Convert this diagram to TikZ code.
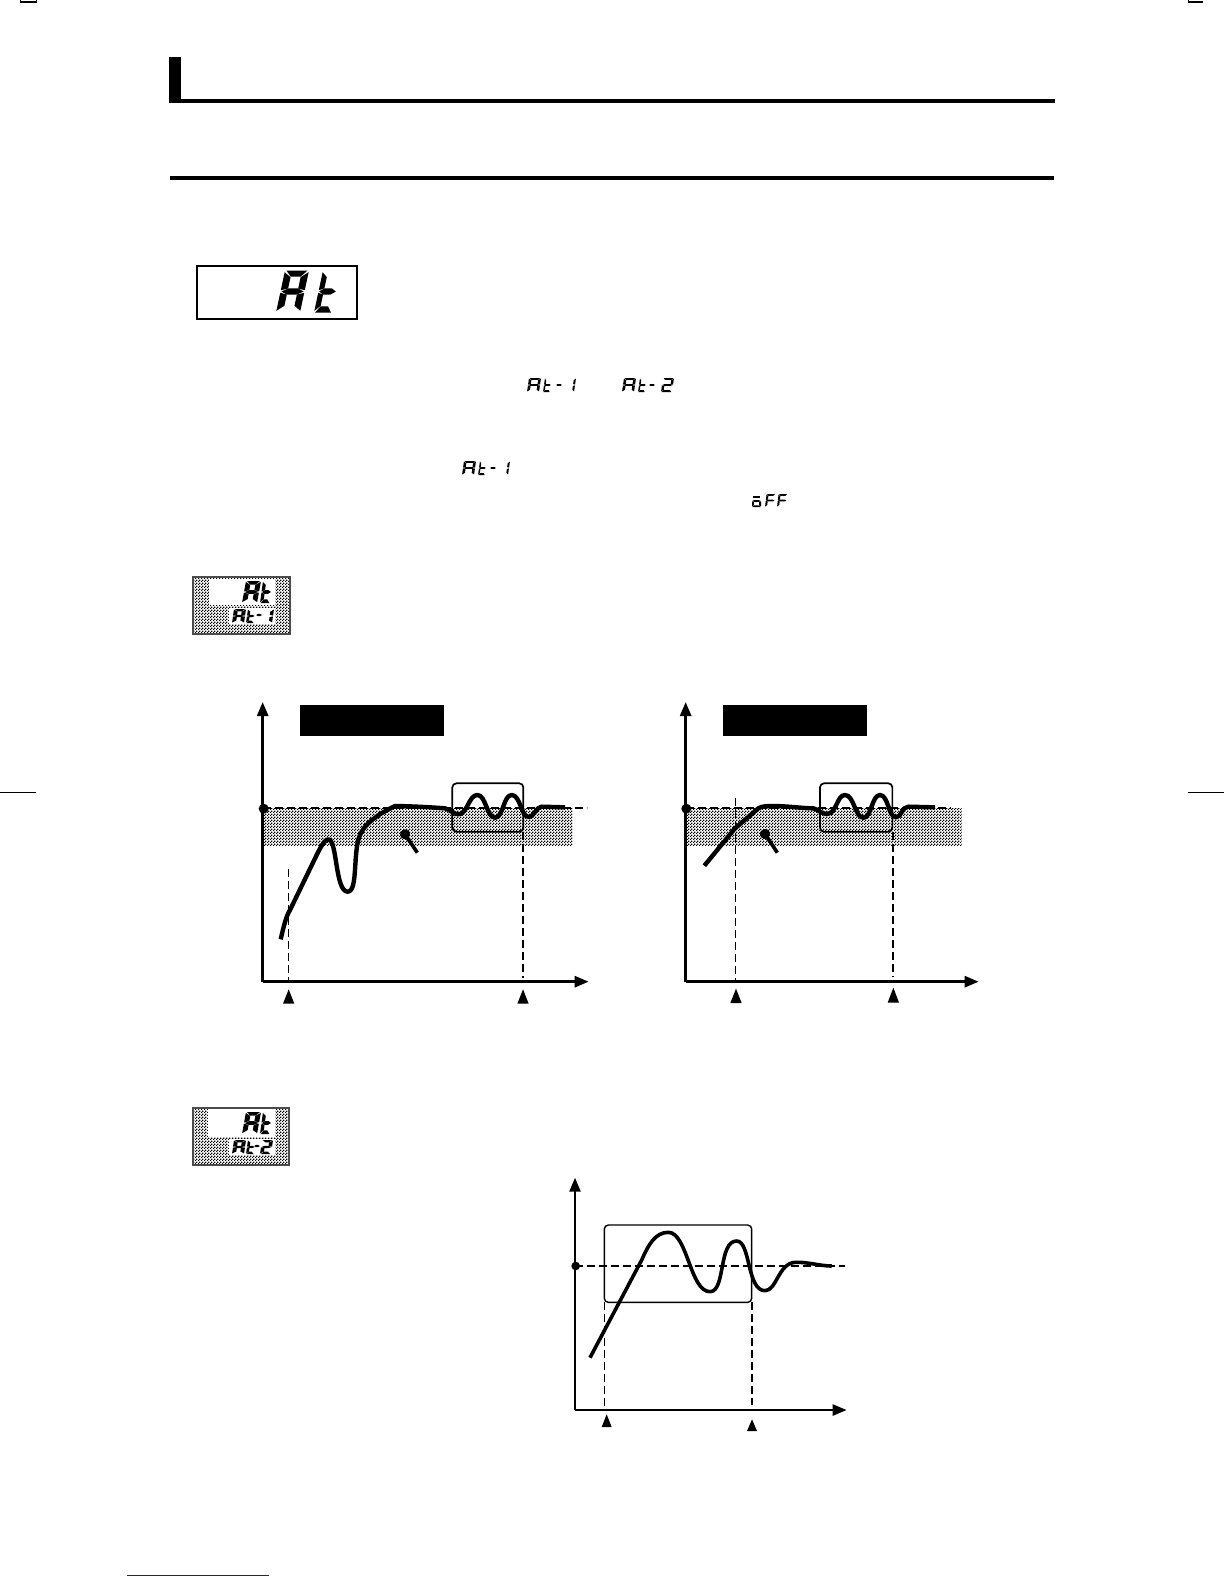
\documentclass[tikz,border=0pt]{standalone}
\usetikzlibrary{patterns,arrows.meta}
\pgfdeclarepatternformonly{dith}{\pgfpointorigin}{\pgfqpoint{1.5pt}{1.5pt}}{\pgfqpoint{1.5pt}{1.5pt}}{%
  \pgfpathrectangle{\pgfqpoint{0pt}{0pt}}{\pgfqpoint{.75pt}{.75pt}}%
  \pgfpathrectangle{\pgfqpoint{.75pt}{.75pt}}{\pgfqpoint{.75pt}{.75pt}}%
  \pgfusepath{fill}}
\definecolor{navyline}{RGB}{25,25,165}
% seven-segment display glyph pieces (unit cell 1 wide, 2 high); \th and \tv set the stroke
\def\th{.2}\def\tv{.25}
\def\segXa{\fill (.06,2)--(.94,2)--({1-\th},{2-\tv})--(\th,{2-\tv})--cycle;}
\def\segXb{\fill (1,1.92)--(1,1.06)--({1-\th},{1+.5*\tv})--({1-\th},{2-\tv-.03})--cycle;}
\def\segXc{\fill (1,.94)--(1,.08)--({1-\th},{\tv+.03})--({1-\th},{1-.5*\tv})--cycle;}
\def\segXd{\fill (.06,0)--(.94,0)--({1-\th},\tv)--(\th,\tv)--cycle;}
\def\segXe{\fill (0,.94)--(0,.08)--(\th,{\tv+.03})--(\th,{1-.5*\tv})--cycle;}
\def\segXf{\fill (0,1.92)--(0,1.06)--(\th,{1+.5*\tv})--(\th,{2-\tv-.03})--cycle;}
\def\segXg{\fill (.04,1)--(\th,{1+.5*\tv})--({1-\th},{1+.5*\tv})--(.96,1)--({1-\th},{1-.5*\tv})--(\th,{1-.5*\tv})--cycle;}
\newcommand\sevseg[6]{\begin{scope}[shift={(#1,#2)},x={(#3*.5pt,0pt)},y={(#5*.5pt,#4*.5pt)}]
  \foreach \s in {#6}{\csname segX\s\endcsname}\end{scope}}
\tikzset{
  axisline/.style={line width=1.35pt,-{Triangle[length=7pt,width=5.5pt]}},
  guide/.style={line width=1.05pt,dash pattern=on 4pt off 2pt},
  guidethin/.style={line width=.8pt,dash pattern=on 4pt off 2pt},
  curve/.style={line width=2.2pt,line join=round,line cap=butt},
  framebox/.style={draw,line width=.85pt,rounded corners=2pt},
  marker/.style={fill=black},
  band/.style={pattern=dith,pattern color=black},
  zoomcs/.style={x=.16667pt,y=-.16667pt},
}
\begin{document}
\begin{tikzpicture}[x=.5pt,y=-.5pt]
\useasboundingbox (0,0) rectangle (1224,1584);
\fill[white] (0,0) rectangle (1224,1584);
% crop marks
\draw[line width=.6pt] (20.5,0)--(20.5,2)--(36.5,2)--(36.5,0);
\draw[line width=.6pt] (1188.5,0)--(1188.5,2)--(1203,2);
\draw[line width=.75pt] (0,792.5)--(36,792.5);
\draw[line width=.75pt] (1188,792.5)--(1224,792.5);
\draw[navyline,line width=.65pt] (127,1575.5)--(269,1575.5);
% headings
\fill (169,57) rectangle (181,102);
\draw[line width=2pt] (169,101)--(1055,101);
\draw[line width=2pt] (170,178)--(1054,178);
% big display
\draw[line width=.8pt] (197,266) rectangle (357,319);
\def\th{.29}\def\tv{.29}
\sevseg{276}{312.5}{24}{21}{4.5}{a,b,c,e,f,g}
\sevseg{314}{312.5}{18}{21}{4.5}{d,e,f,g}
% inline read-outs
\def\th{.22}\def\tv{.28}
\sevseg{527}{392}{12}{7}{1}{a,b,c,e,f,g}
\sevseg{543}{392}{7}{7}{1}{d,e,f,g}
\sevseg{556}{392}{6}{7}{0}{g}
\sevseg{565}{392}{9}{7}{1}{b,c}
\sevseg{622}{392}{12}{7}{1}{a,b,c,e,f,g}
\sevseg{638}{392}{7}{7}{1}{d,e,f,g}
\sevseg{649}{392}{6}{7}{0}{g}
\sevseg{661}{392}{11}{7}{1}{a,b,g,e,d}
\sevseg{462}{475}{12}{7}{1}{a,b,c,e,f,g}
\sevseg{478}{475}{7}{7}{1}{d,e,f,g}
\sevseg{490}{475}{6}{7}{0}{g}
\sevseg{499}{475}{9}{7}{1}{b,c}
\sevseg{752}{507}{9}{6}{0}{c,d,e,g}
\fill (753,496) rectangle (760,497.5);
\sevseg{765}{507}{9}{6.5}{.8}{a,e,f,g}
\sevseg{777}{507}{9}{6.5}{.8}{a,e,f,g}
% badge 1
\def\th{.33}\def\tv{.33}
\path[band] (193,577) rectangle (290,634);
\draw[black!70,line width=.6pt] (193,577) rectangle (290,634);
\fill[white] (209,579) rectangle (275,605);
\fill[white] (229,608) rectangle (275,624);
\sevseg{242}{603}{15}{11}{2}{a,b,c,e,f,g}
\sevseg{260}{603}{10}{11}{1.5}{d,e,f,g}
\sevseg{232}{623}{12}{7}{1}{a,b,c,e,f,g}
\sevseg{246}{623}{8}{7}{1}{d,e,f,g}
\sevseg{256}{622}{6}{7}{0}{g}
\sevseg{262}{623}{10}{7}{1}{b,c}
% badge 2
\path[band] (193,1108) rectangle (289,1165);
\draw[black!70,line width=.6pt] (193,1108) rectangle (289,1165);
\fill[white] (208,1109) rectangle (275,1137);
\fill[white] (229,1139) rectangle (275,1155);
\sevseg{242}{1134}{15}{11}{2}{a,b,c,e,f,g}
\sevseg{260}{1134}{10}{11}{1.5}{d,e,f,g}
\sevseg{232}{1154}{12}{7}{1}{a,b,c,e,f,g}
\sevseg{246}{1154}{8}{7}{1}{d,e,f,g}
\sevseg{254}{1153}{6}{7}{0}{g}
\sevseg{260}{1154}{11}{7}{1}{a,b,g,e,d}
% chart 1
\begin{scope}[shift={(240,690)},zoomcs]
\path[band] (68,355) rectangle (998,466);
\fill (180,45) rectangle (612,138);
\draw[guide] (68,355)--(1040,355);
\draw[guidethin] (145,538)--(145,870);
\draw[guide] (849,425)--(849,865);
\draw[framebox] (637,280) rectangle (850,425);
\draw[axisline] (68,875)--(68,36);
\draw[axisline] (68,875)--(1046,875);
\fill[marker] (71,356) circle[radius=15];
\draw[curve] (122,748) .. controls (132,705) and (138,680) .. (150,660) -- (230,495)
  .. controls (245,465) and (255,448) .. (265,448)
  .. controls (292,448) and (285,605) .. (323,605)
  .. controls (357,605) and (335,470) .. (365,425)
  .. controls (385,390) and (430,365) .. (465,348)
  .. controls (500,348) and (580,352) .. (615,355)
  .. controls (630,358) and (640,373) .. (655,373)
  .. controls (682,373) and (686,315) .. (712,315)
  .. controls (738,315) and (740,383) .. (765,383)
  .. controls (790,383) and (790,315) .. (815,315)
  .. controls (842,315) and (842,381) .. (867,381)
  .. controls (882,381) and (888,350) .. (905,350) -- (975,352);
\fill[marker] (146,898)--(129,941)--(163,941)--cycle;
\fill[marker] (849,898)--(832,941)--(866,941)--cycle;
\fill[marker] (495,433) circle[radius=15];
\draw[line width=1.8pt] (495,433)--(532,488);
\end{scope}
% chart 2
\begin{scope}[shift={(660,690)},zoomcs]
\path[band] (77,355) rectangle (905,466);
\fill (190,45) rectangle (620,138);
\draw[guide] (77,355)--(870,355);
\draw[guidethin] (227,325)--(227,870);
\draw[guide] (698,425)--(698,862);
\draw[framebox] (480,280) rectangle (697,425);
\draw[axisline] (77,875)--(77,36);
\draw[axisline] (77,875)--(956,875);
\fill[marker] (79,356) circle[radius=15];
\draw[curve] (133,527) -- (225,415) -- (295,355)
  .. controls (305,348) and (325,348) .. (340,348)
  .. controls (380,348) and (430,355) .. (460,355)
  .. controls (475,358) and (485,372) .. (500,372)
  .. controls (530,372) and (530,315) .. (555,315)
  .. controls (582,315) and (585,383) .. (610,383)
  .. controls (635,383) and (635,315) .. (660,315)
  .. controls (685,315) and (685,382) .. (708,382)
  .. controls (725,382) and (725,350) .. (745,350) -- (825,352);
\fill[marker] (228,896)--(211,939)--(245,939)--cycle;
\fill[marker] (700,893)--(683,938)--(717,938)--cycle;
\fill[marker] (315,432) circle[radius=15];
\draw[line width=1.8pt] (315,432)--(352,488);
\end{scope}
% chart 3
\begin{scope}[shift={(550,1165)},zoomcs]
\draw[guide] (75,302)--(885,302);
\draw[guidethin] (163,412)--(163,728);
\draw[guide] (605,412)--(605,720);
\draw[framebox,line width=.7pt] (163,180) rectangle (605,412);
\draw[axisline,line width=1.2pt] (75,735)--(75,38);
\draw[axisline,line width=1.2pt] (75,735)--(890,735);
\fill[marker] (77,303) circle[radius=13];
\draw[curve,line width=1.8pt] (120,578) -- (275,285)
  .. controls (295,240) and (315,202) .. (355,202)
  .. controls (412,202) and (420,380) .. (480,380)
  .. controls (527,380) and (505,228) .. (560,228)
  .. controls (602,228) and (590,377) .. (645,377)
  .. controls (680,377) and (685,295) .. (735,292)
  .. controls (770,290) and (810,303) .. (845,303);
\fill[marker] (170,748)--(155,786)--(185,786)--cycle;
\fill[marker] (606,763)--(591,798)--(621,798)--cycle;
\end{scope}
\end{tikzpicture}
\end{document}
